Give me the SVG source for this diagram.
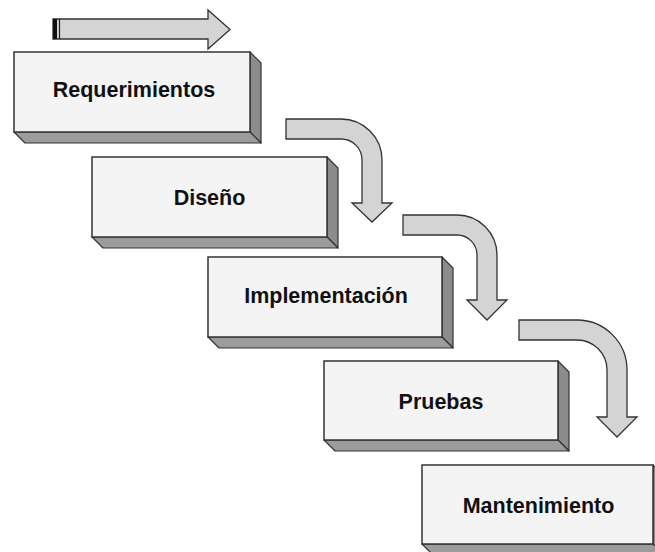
<svg xmlns="http://www.w3.org/2000/svg" width="655" height="552" viewBox="0 0 655 552">
<style>
.face{fill:#f4f4f4;stroke:#333;stroke-width:1.5}
.side{fill:#8c8c8c;stroke:#333;stroke-width:1.2;stroke-linejoin:round}
.bottom{fill:#9c9c9c;stroke:#333;stroke-width:1.2;stroke-linejoin:round}
.lbl{font-family:"Liberation Sans",Arial,sans-serif;font-weight:bold;font-size:21.5px;fill:#111;text-anchor:middle}
.arr{fill:#d4d4d4;stroke:#333;stroke-width:1.3;stroke-linejoin:miter}
</style>
<rect width="655" height="552" fill="#fff"/>
<g id="connectors">
<path class="arr" d="M53,19 H208 V10 L230,29.5 L208,49 V39 H53 Z"/>
<rect x="53" y="19" width="4" height="20" fill="#111"/>
<line x1="59.5" y1="19" x2="59.5" y2="39" stroke="#222" stroke-width="1.2"/>
<path class="arr" d="M286,119 H341 A41,41 0 0 1 382,160 V203 H392 L372,222 L352,203 H362 V160 A21,21 0 0 0 341,139 H286 Z"/>
<path class="arr" d="M403,215 H457 A40,40 0 0 1 497,255 V300 H507 L487,320 L467,300 H477 V255 A20,20 0 0 0 457,235 H403 Z"/>
<path class="arr" d="M519,320 H577 A50,50 0 0 1 627,370 V417 H637 L617,437 L597,417 H607 V370 A30,30 0 0 0 577,340 H519 Z"/>
</g>
<g id="requerimientos">
<polygon class="side" points="250,52 261,63 261,143 250,132"/>
<polygon class="bottom" points="14,132 250,132 261,143 25,143"/>
<rect class="face" x="14" y="52" width="236" height="80"/>
<text class="lbl" x="134" y="97">Requerimientos</text>
</g>
<g id="diseno">
<polygon class="side" points="327,157 338,168 338,248 327,237"/>
<polygon class="bottom" points="92,237 327,237 338,248 103,248"/>
<rect class="face" x="92" y="157" width="235" height="80"/>
<text class="lbl" x="209.5" y="205">Diseño</text>
</g>
<g id="implementacion">
<polygon class="side" points="442,257 453,268 453,348 442,337"/>
<polygon class="bottom" points="208,337 442,337 453,348 219,348"/>
<rect class="face" x="208" y="257" width="234" height="80"/>
<text class="lbl" x="326" y="303">Implementación</text>
</g>
<g id="pruebas">
<polygon class="side" points="558,361 569,372 569,451 558,440"/>
<polygon class="bottom" points="324,440 558,440 569,451 335,451"/>
<rect class="face" x="324" y="361" width="234" height="79"/>
<text class="lbl" x="441" y="409">Pruebas</text>
</g>
<g id="mantenimiento">
<polygon class="side" points="653,465 664,476 664,555 653,544"/>
<polygon class="bottom" points="422,544 653,544 664,555 433,555"/>
<rect class="face" x="422" y="465" width="231" height="79"/>
<text class="lbl" x="538.5" y="513">Mantenimiento</text>
</g>
</svg>
